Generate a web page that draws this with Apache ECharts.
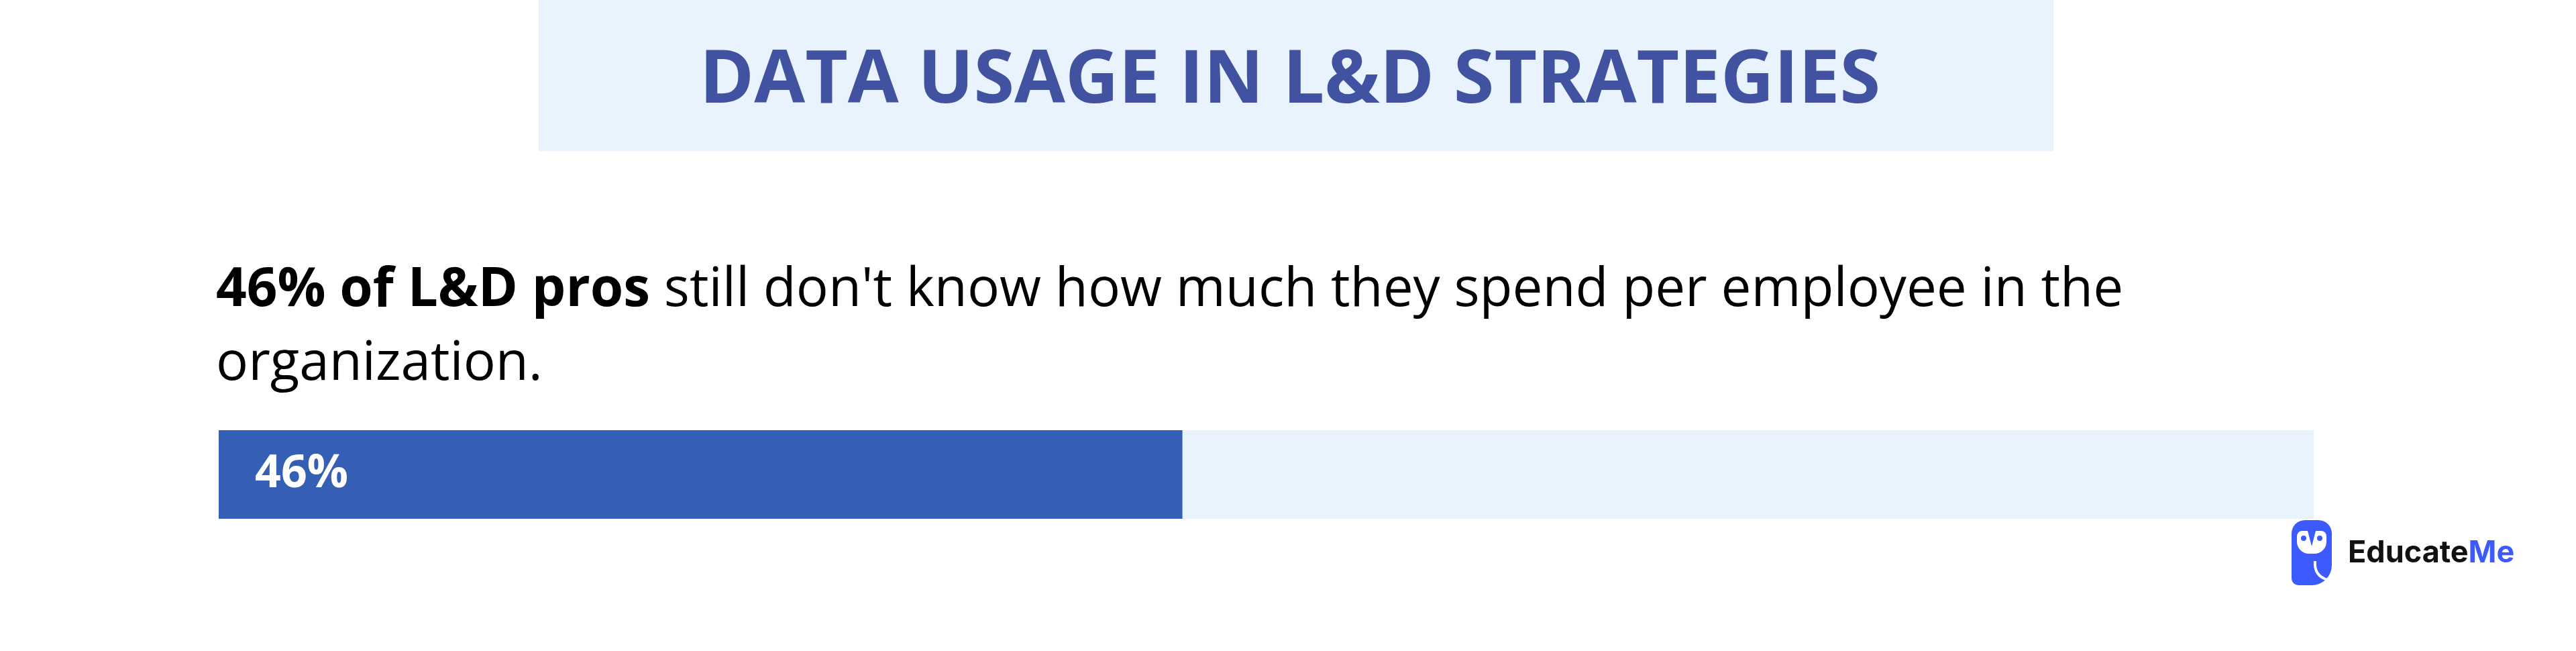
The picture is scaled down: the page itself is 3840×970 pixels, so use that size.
<!DOCTYPE html>
<html>
<head>
<meta charset="utf-8">
<script src="https://cdn.jsdelivr.net/npm/echarts@6/dist/echarts.min.js"></script>
<style>
html,body{margin:0;padding:0;background:#ffffff;}
#chart{width:3840px;height:970px;}
</style>
</head>
<body>
<div id="chart"></div>
<script>
const chartTitle = 'DATA USAGE IN L&D STRATEGIES';
const statHighlight = '46% of L&D pros';
const statRest = " still don't know how much they spend per employee in the";
const statLine2 = 'organization.';
const categories = ['L&D pros'];
const values = [46];
const maxValue = 100;
const brandMain = 'Educate';
const brandAccent = 'Me';

const chart = echarts.init(document.getElementById('chart'), null, {renderer: 'canvas'});

const option = {
  backgroundColor: '#ffffff',
  animation: false,
  title: {
    text: '{b|' + statHighlight + '}' + statRest + '\n' + statLine2,
    left: 322,
    top: 378,
    padding: 0,
    textStyle: {
      fontFamily: 'Open Sans',
      fontSize: 80,
      fontWeight: 'normal',
      color: '#000000',
      lineHeight: 110,
      rich: {
        b: {fontFamily: 'Open Sans', fontSize: 80, fontWeight: 'bold', color: '#000000', lineHeight: 110}
      }
    }
  },
  grid: {left: 326, right: 391, top: 641, height: 132, containLabel: false},
  xAxis: {
    type: 'value', min: 0, max: maxValue,
    show: false
  },
  yAxis: {
    type: 'category', data: categories, show: false
  },
  series: [{
    type: 'bar',
    data: values,
    barWidth: 132,
    itemStyle: {color: '#355fb4'},
    showBackground: true,
    backgroundStyle: {color: '#e9f3fe'},
    label: {
      show: true,
      position: 'insideLeft',
      distance: 54,
      formatter: '{c}%',
      color: '#ffffff',
      fontFamily: 'Open Sans',
      fontWeight: 'bold',
      fontSize: 68
    }
  }],
  graphic: [
    {type: 'rect', z: -1, shape: {x: 803, y: 0, width: 2258, height: 225}, style: {fill: '#e9f3fe'}},
    {type: 'text', x: 1923, y: 122, z: 2, style: {text: chartTitle, fill: '#4152a0', font: 'bold 110px "Open Sans"', textAlign: 'center', textVerticalAlign: 'middle'}},
    {type: 'rect', shape: {x: 3416, y: 775, width: 60, height: 97, r: [20, 20, 30, 10]}, style: {fill: '#3d5afe'}},
    {type: 'rect', shape: {x: 3424, y: 791, width: 44, height: 34, r: [8, 8, 18, 18]}, style: {fill: '#ffffff'}},
    {type: 'circle', shape: {cx: 3434, cy: 802, r: 4}, style: {fill: '#3d5afe'}},
    {type: 'circle', shape: {cx: 3458, cy: 802, r: 4}, style: {fill: '#3d5afe'}},
    {type: 'polygon', shape: {points: [[3440, 791], [3452, 791], [3446, 814]]}, style: {fill: '#3d5afe'}},
    {type: 'bezierCurve', shape: {x1: 3451, y1: 836, cpx1: 3449, cpy1: 858, x2: 3470, y2: 864}, style: {stroke: '#ffffff', lineWidth: 4, fill: null}},
    {type: 'text', x: 3500, y: 824, style: {
      text: '{a|' + brandMain + '}{m|' + brandAccent + '}',
      textVerticalAlign: 'middle',
      rich: {
        a: {fontFamily: 'Inter', fontWeight: 'bold', fontSize: 45, fill: '#111111'},
        m: {fontFamily: 'Inter', fontWeight: 'bold', fontSize: 45, fill: '#3d5afe'}
      }
    }}
  ]
};
chart.setOption(option);
</script>
</body>
</html>
